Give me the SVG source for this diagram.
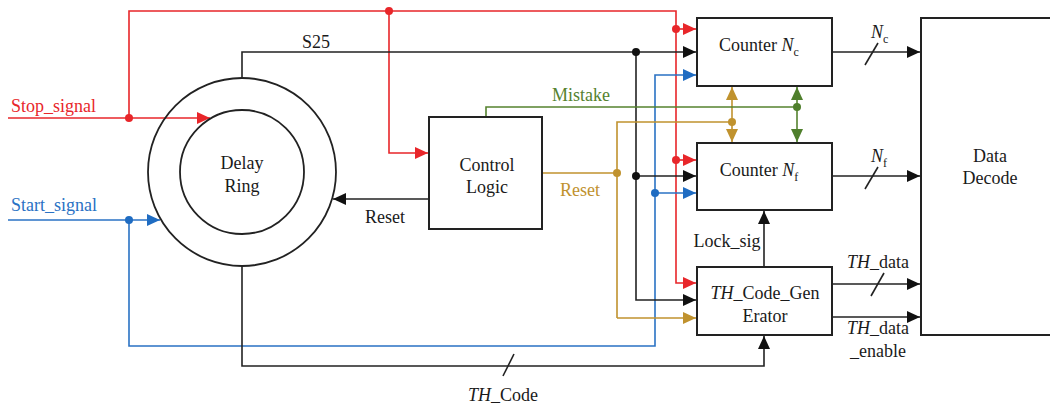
<svg xmlns="http://www.w3.org/2000/svg" width="1050" height="407" viewBox="0 0 1050 407" font-family="Liberation Serif, Times New Roman, serif" font-size="18">
  <style>
    text { fill: #1a1a1a; }
    .box { fill: #ffffff; stroke: #222222; stroke-width: 2; }
    .ring { fill: none; stroke: #222222; stroke-width: 1.8; }
    .w { fill: none; stroke-width: 1.6; stroke-linejoin: miter; }
    .k { stroke: #222222; }
    .r { stroke: #e8262a; }
    .b { stroke: #2a72c4; }
    .g { stroke: #c0922e; }
    .m { stroke: #55822f; }
    .sub { font-size: 12px; }
    .it { font-style: italic; }
  </style>
  <defs>
    <marker id="ak" markerUnits="userSpaceOnUse" markerWidth="14" markerHeight="12" refX="13" refY="6" orient="auto-start-reverse"><path d="M0,0 L13,6 L0,12 z" fill="#111111"/></marker>
    <marker id="ar" markerUnits="userSpaceOnUse" markerWidth="14" markerHeight="12" refX="13" refY="6" orient="auto-start-reverse"><path d="M0,0 L13,6 L0,12 z" fill="#e8262a"/></marker>
    <marker id="ab" markerUnits="userSpaceOnUse" markerWidth="14" markerHeight="12" refX="13" refY="6" orient="auto-start-reverse"><path d="M0,0 L13,6 L0,12 z" fill="#1f6cc2"/></marker>
    <marker id="ag" markerUnits="userSpaceOnUse" markerWidth="14" markerHeight="12" refX="13" refY="6" orient="auto-start-reverse"><path d="M0,0 L13,6 L0,12 z" fill="#c0922e"/></marker>
    <marker id="am" markerUnits="userSpaceOnUse" markerWidth="14" markerHeight="12" refX="13" refY="6" orient="auto-start-reverse"><path d="M0,0 L13,6 L0,12 z" fill="#4f7f2c"/></marker>
  </defs>

  <!-- connectors -->
  <g id="connectors">
    <!-- stop signal (red) -->
    <path class="w r" d="M8,118 H210" marker-end="url(#ar)"/>
    <path class="w r" d="M129,118 V11 H676 V283 H696" marker-end="url(#ar)"/>
    <path class="w r" d="M389,11 V153 H428" marker-end="url(#ar)"/>
    <path class="w r" d="M676,29 H696" marker-end="url(#ar)"/>
    <path class="w r" d="M676,160 H696" marker-end="url(#ar)"/>

    <!-- start signal (blue) -->
    <path class="w b" d="M8,220 H160" marker-end="url(#ab)"/>
    <path class="w b" d="M129,220 V346 H655 V75 H696" marker-end="url(#ab)"/>
    <path class="w b" d="M655,193 H696" marker-end="url(#ab)"/>

    <!-- S25 tap (black) -->
    <path class="w k" d="M242,78 V52 H696" marker-end="url(#ak)"/>
    <path class="w k" d="M636,52 V300 H696" marker-end="url(#ak)"/>
    <path class="w k" d="M636,176 H696" marker-end="url(#ak)"/>

    <!-- reset back into the ring -->
    <path class="w k" d="M429,199 H333" marker-end="url(#ak)"/>

    <!-- reset to counters and code generator (gold) -->
    <path class="w g" d="M542,173 H617"/>
    <path class="w g" d="M617,318 V122 H732"/>
    <path class="w g" d="M617,318 H696" marker-end="url(#ag)"/>
    <path class="w g" d="M732,87 V142" marker-start="url(#ag)" marker-end="url(#ag)"/>

    <!-- mistake (green) -->
    <path class="w m" d="M486,117 V107 H797"/>
    <path class="w m" d="M797,87 V142" marker-start="url(#am)" marker-end="url(#am)"/>

    <!-- TH_Code from the ring to the generator -->
    <path class="w k" d="M242,267 V366 H764 V336" marker-end="url(#ak)"/>
    <path class="w k" d="M503,376 L514,354"/>

    <!-- lock signal -->
    <path class="w k" d="M764,267 V211" marker-end="url(#ak)"/>

    <!-- counter outputs -->
    <path class="w k" d="M832,52 H920" marker-end="url(#ak)"/>
    <path class="w k" d="M865,65 L878,43"/>
    <path class="w k" d="M832,176 H920" marker-end="url(#ak)"/>
    <path class="w k" d="M865,189 L878,167"/>

    <!-- generator outputs -->
    <path class="w k" d="M832,284 H920" marker-end="url(#ak)"/>
    <path class="w k" d="M871,296 L884,273"/>
    <path class="w k" d="M832,317 H920" marker-end="url(#ak)"/>

    <!-- junction dots -->
    <g fill="#e8262a">
      <circle cx="129" cy="118" r="4"/>
      <circle cx="389" cy="11" r="4"/>
      <circle cx="676" cy="29" r="4"/>
      <circle cx="676" cy="160" r="4"/>
    </g>
    <g fill="#1f6cc2">
      <circle cx="129" cy="220" r="4"/>
      <circle cx="655" cy="193" r="4"/>
    </g>
    <g fill="#111111">
      <circle cx="636" cy="52" r="4"/>
      <circle cx="636" cy="176" r="4"/>
    </g>
    <g fill="#c0922e">
      <circle cx="617" cy="173" r="4"/>
      <circle cx="732" cy="122" r="4"/>
    </g>
    <circle cx="797" cy="107" r="4" fill="#4f7f2c"/>

    <!-- connector labels -->
    <text x="11" y="112" style="fill:#e8262a">Stop_signal</text>
    <text x="11" y="211" style="fill:#2a72c4">Start_signal</text>
    <text x="316" y="48" text-anchor="middle">S25</text>
    <text x="581" y="101" text-anchor="middle" style="fill:#55822f">Mistake</text>
    <text x="580" y="196" text-anchor="middle" style="fill:#c0922e">Reset</text>
    <text x="385" y="223" text-anchor="middle">Reset</text>
    <text x="727" y="247" text-anchor="middle">Lock_sig</text>
    <text x="503" y="401" text-anchor="middle"><tspan class="it">TH</tspan>_Code</text>
    <text x="871" y="38"><tspan class="it">N</tspan><tspan class="sub" dy="5">c</tspan></text>
    <text x="871" y="162"><tspan class="it">N</tspan><tspan class="sub" dy="5">f</tspan></text>
    <text x="878" y="268" text-anchor="middle"><tspan class="it">TH</tspan>_data</text>
    <text x="878" y="334" text-anchor="middle"><tspan class="it">TH</tspan>_data</text>
    <text x="878" y="357" text-anchor="middle">_enable</text>
  </g>

  <!-- delay ring -->
  <g id="delay-ring">
    <circle class="ring" cx="242" cy="172" r="94"/>
    <circle class="ring" cx="242" cy="172" r="62"/>
    <text x="242" y="169" text-anchor="middle">Delay</text>
    <text x="242" y="192" text-anchor="middle">Ring</text>
  </g>

  <!-- control logic -->
  <g id="control-logic">
    <rect class="box" x="429" y="117" width="113" height="112"/>
    <text x="487" y="171" text-anchor="middle">Control</text>
    <text x="487" y="193" text-anchor="middle">Logic</text>
  </g>

  <!-- counter Nc -->
  <g id="counter-nc">
    <rect class="box" x="697" y="18" width="135" height="68"/>
    <text x="759" y="51" text-anchor="middle">Counter <tspan class="it">N</tspan><tspan class="sub" dy="5">c</tspan></text>
  </g>

  <!-- counter Nf -->
  <g id="counter-nf">
    <rect class="box" x="697" y="143" width="135" height="67"/>
    <text x="759" y="176" text-anchor="middle">Counter <tspan class="it">N</tspan><tspan class="sub" dy="5">f</tspan></text>
  </g>

  <!-- TH code generator -->
  <g id="th-code-generator">
    <rect class="box" x="697" y="267" width="135" height="68"/>
    <text x="765" y="299" text-anchor="middle"><tspan class="it">TH</tspan>_Code_Gen</text>
    <text x="765" y="322" text-anchor="middle">Erator</text>
  </g>

  <!-- data decode -->
  <g id="data-decode">
    <rect class="box" x="921" y="18" width="145" height="317"/>
    <text x="990" y="162" text-anchor="middle">Data</text>
    <text x="990" y="184" text-anchor="middle">Decode</text>
  </g>
</svg>
